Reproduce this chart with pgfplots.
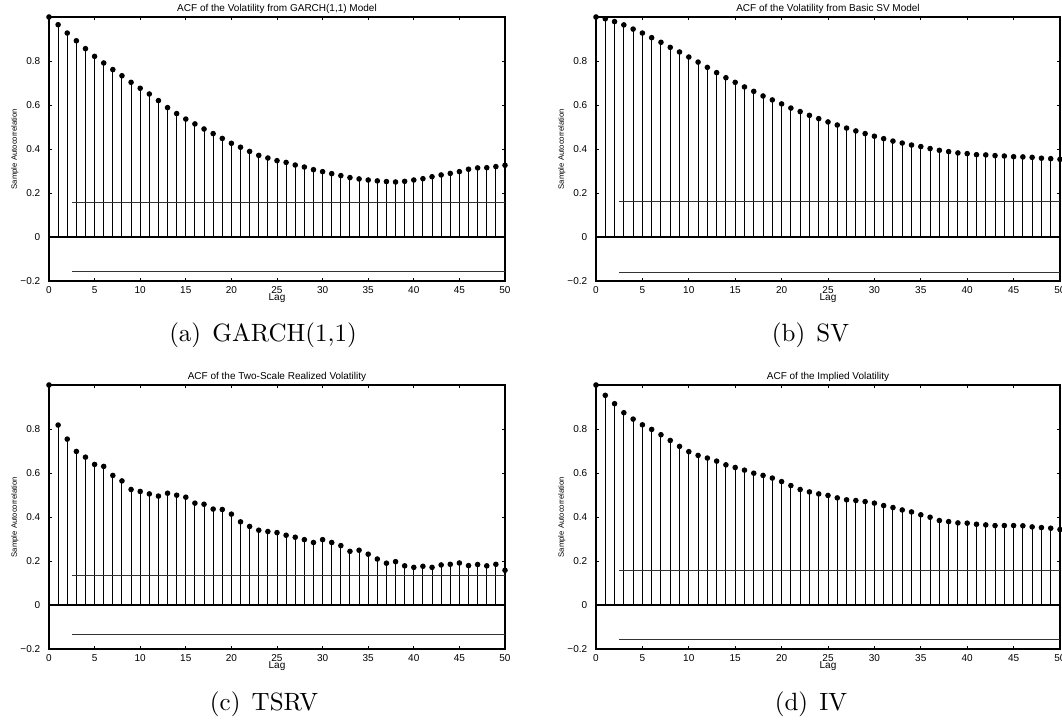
\documentclass[border=0pt]{standalone}
\usepackage{fontspec}
\setsansfont{Liberation Sans}
\usepackage{pgfplots}
\usepackage{pgfplotstable}
\pgfplotsset{compat=1.18}

% sample ACF values, lags 0..50
\pgfplotstableread{
lag acf
0 1.000
1 0.965
2 0.927
3 0.892
4 0.856
5 0.821
6 0.791
7 0.761
8 0.733
9 0.703
10 0.676
11 0.650
12 0.620
13 0.588
14 0.561
15 0.536
16 0.514
17 0.491
18 0.470
19 0.448
20 0.426
21 0.408
22 0.389
23 0.371
24 0.359
25 0.347
26 0.339
27 0.327
28 0.318
29 0.306
30 0.297
31 0.288
32 0.279
33 0.270
34 0.264
35 0.259
36 0.255
37 0.252
38 0.250
39 0.253
40 0.259
41 0.265
42 0.274
43 0.282
44 0.289
45 0.297
46 0.308
47 0.314
48 0.315
49 0.320
50 0.326
}\garch

\pgfplotstableread{
lag acf
0 1.000
1 0.992
2 0.979
3 0.964
4 0.945
5 0.927
6 0.906
7 0.885
8 0.862
9 0.841
10 0.818
11 0.795
12 0.771
13 0.747
14 0.724
15 0.703
16 0.682
17 0.662
18 0.641
19 0.623
20 0.605
21 0.586
22 0.570
23 0.553
24 0.538
25 0.523
26 0.509
27 0.495
28 0.482
29 0.470
30 0.458
31 0.447
32 0.436
33 0.427
34 0.418
35 0.411
36 0.402
37 0.394
38 0.388
39 0.382
40 0.379
41 0.374
42 0.373
43 0.370
44 0.368
45 0.365
46 0.364
47 0.362
48 0.358
49 0.356
50 0.353
}\sv

\pgfplotstableread{
lag acf
0 1.000
1 0.818
2 0.754
3 0.698
4 0.672
5 0.639
6 0.630
7 0.589
8 0.564
9 0.525
10 0.516
11 0.505
12 0.495
13 0.508
14 0.499
15 0.490
16 0.463
17 0.458
18 0.436
19 0.434
20 0.413
21 0.378
22 0.357
23 0.340
24 0.334
25 0.329
26 0.317
27 0.308
28 0.297
29 0.284
30 0.297
31 0.284
32 0.270
33 0.244
34 0.249
35 0.231
36 0.209
37 0.190
38 0.197
39 0.178
40 0.171
41 0.176
42 0.171
43 0.182
44 0.185
45 0.191
46 0.179
47 0.184
48 0.178
49 0.185
50 0.158
}\tsrv

\pgfplotstableread{
lag acf
0 1.000
1 0.953
2 0.915
3 0.874
4 0.845
5 0.819
6 0.798
7 0.774
8 0.748
9 0.721
10 0.697
11 0.680
12 0.668
13 0.654
14 0.637
15 0.625
16 0.613
17 0.599
18 0.589
19 0.577
20 0.561
21 0.543
22 0.525
23 0.514
24 0.505
25 0.498
26 0.487
27 0.478
28 0.475
29 0.470
30 0.463
31 0.452
32 0.443
33 0.432
34 0.423
35 0.410
36 0.399
37 0.384
38 0.379
39 0.373
40 0.372
41 0.367
42 0.364
43 0.361
44 0.361
45 0.361
46 0.360
47 0.355
48 0.352
49 0.349
50 0.343
}\iv

\newcommand\mfont{\sffamily\fontsize{4}{4.8}\selectfont}

\pgfplotsset{
  acf/.style={
    scale only axis,
    height=105.6pt,
    xmin=0, xmax=50, ymin=-0.2, ymax=1,
    xtick={0,5,...,50},
    ytick={-0.2,0,0.2,0.4,0.6,0.8},
    yticklabels={−0.2,0,0.2,0.4,0.6,0.8},
    /pgf/number format/assume math mode=true,
    ticklabel style={font=\mfont},
    xticklabel style={yshift=1.4pt},
    major tick length=1.2pt,
    tick style={black, line width=0.3pt},
    axis line style={line width=0.45pt},
    clip=false,
    xlabel={Lag},
    ylabel={Sample Autocorrelation},
    every axis x label/.style={at={(axis description cs:0.5,0)}, anchor=north,
      yshift=-4.8pt, font=\mfont, inner sep=0pt},
    every axis y label/.style={at={(axis description cs:0,0.5)}, rotate=90,
      anchor=south, yshift=12pt, font=\sffamily\fontsize{3.1}{3.5}\selectfont, inner sep=0pt},
    every axis title/.style={at={(axis description cs:0.5,1)}, anchor=base,
      yshift=2.2pt, font=\mfont, inner sep=0pt},
  },
  stem/.style={ycomb, black, line width=0.4pt, mark=*, mark size=0.9pt, mark options={fill=black}},
  bound/.style={black!80, line width=0.4pt},
}

\begin{document}
\begin{tikzpicture}
\useasboundingbox (0,0) rectangle (424.8pt,-288pt);

\begin{axis}[acf, width=182.4pt, at={(19.6pt,-112.4pt)}, anchor=south west,
  title={ACF of the Volatility from GARCH(1,1) Model}]
\addplot[stem] table[x=lag, y=acf] {\garch};
\addplot[black, line width=0.45pt] coordinates {(0,0) (50,0)};
\addplot[bound] coordinates {(2.5,0.157) (50,0.157)};
\addplot[bound] coordinates {(2.5,-0.157) (50,-0.157)};
\end{axis}

\begin{axis}[acf, width=185.6pt, at={(238.4pt,-112.4pt)}, anchor=south west,
  title={ACF of the Volatility from Basic SV Model}]
\addplot[stem] table[x=lag, y=acf] {\sv};
\addplot[black, line width=0.45pt] coordinates {(0,0) (50,0)};
\addplot[bound] coordinates {(2.5,0.161) (50,0.161)};
\addplot[bound] coordinates {(2.5,-0.161) (50,-0.161)};
\end{axis}

\begin{axis}[acf, width=182.4pt, at={(19.6pt,-259.6pt)}, anchor=south west,
  title={ACF of the Two-Scale Realized Volatility}]
\addplot[stem] table[x=lag, y=acf] {\tsrv};
\addplot[black, line width=0.45pt] coordinates {(0,0) (50,0)};
\addplot[bound] coordinates {(2.5,0.136) (50,0.136)};
\addplot[bound] coordinates {(2.5,-0.136) (50,-0.136)};
\end{axis}

\begin{axis}[acf, width=185.6pt, at={(238.4pt,-259.6pt)}, anchor=south west,
  title={ACF of the Implied Volatility}]
\addplot[stem] table[x=lag, y=acf] {\iv};
\addplot[black, line width=0.45pt] coordinates {(0,0) (50,0)};
\addplot[bound] coordinates {(2.5,0.155) (50,0.155)};
\addplot[bound] coordinates {(2.5,-0.155) (50,-0.155)};
\end{axis}

% sub-captions
\node[anchor=base] at (105.2pt,-136.8pt) {(a)\hspace{4.5pt}GARCH(1,1)};
\node[anchor=base] at (324.2pt,-136.8pt) {(b)\hspace{4.5pt}SV};
\node[anchor=base] at (105.6pt,-284pt) {(c)\hspace{4.5pt}TSRV};
\node[anchor=base] at (324.4pt,-284pt) {(d)\hspace{4.5pt}IV};
\end{tikzpicture}
\end{document}
